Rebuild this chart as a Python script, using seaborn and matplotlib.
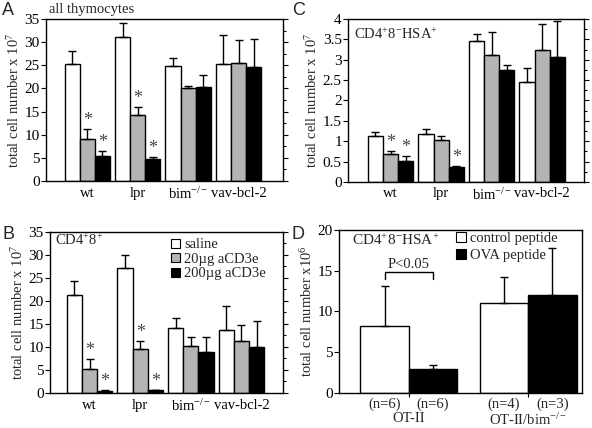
import numpy as np
import pandas as pd
import seaborn as sns
import matplotlib
matplotlib.use("Agg")
import matplotlib.pyplot as plt
from matplotlib.patches import Patch
from matplotlib.container import BarContainer
from matplotlib.ticker import MultipleLocator

# genotypes on the x axis of panels A-C, three treatments as hue
genotypes = ["wt", "lpr", "bim$^{-/-}$", "vav-bcl-2"]
treatments = ["saline", "20\u00b5g aCD3e", "200\u00b5g aCD3e"]

# panel A: all thymocytes (x 10^7), rows = genotype, cols = treatment
a_mean = [[25.3, 9.1, 5.5], [31.2, 14.2, 4.8], [24.9, 20.0, 20.3], [25.3, 25.6, 24.6]]
a_err = [[2.7, 2.1, 0.9], [2.9, 1.8, 0.5], [1.6, 0.5, 2.5], [6.3, 4.8, 6.1]]
a_star = [[False, True, True], [False, True, True], [False, False, False], [False, False, False]]

# panel B: CD4+8+
b_mean = [[21.4, 5.2, 0.45], [27.1, 9.6, 0.65], [14.2, 10.3, 8.95], [13.7, 11.35, 10.1]]
b_err = [[2.9, 2.1, 0.15], [3.0, 1.75, 0.1], [2.0, 1.8, 3.15], [5.3, 3.45, 5.6]]
b_star = [[False, True, True], [False, True, True], [False, False, False], [False, False, False]]

# panel C: CD4+8-HSA+
c_mean = [[1.12, 0.68, 0.51], [1.17, 1.03, 0.36], [3.46, 3.11, 2.76], [2.46, 3.24, 3.06]]
c_err = [[0.11, 0.08, 0.12], [0.12, 0.09, 0.03], [0.18, 0.57, 0.12], [0.33, 0.64, 0.89]]
c_star = [[False, True, True], [False, False, True], [False, False, False], [False, False, False]]

# panel D: OT-II experiment (x 10^6)
d_groups = ["OT-II", "OT-II/bim$^{-/-}$"]
d_peptides = ["control peptide", "OVA peptide"]
d_mean = [[8.2, 2.95], [11.07, 12.0]]
d_err = [[4.9, 0.5], [3.2, 5.75]]
d_n = [["(n=6)", "(n=6)"], ["(n=4)", "(n=3)"]]

tri_colors = ["white", "#b4b4b4", "black"]
duo_colors = ["white", "black"]

sns.set_style("ticks")
plt.rcParams["font.family"] = ["Liberation Serif", "DejaVu Serif"]
plt.rcParams["mathtext.fontset"] = "custom"
plt.rcParams["mathtext.rm"] = "Liberation Serif"
plt.rcParams["mathtext.it"] = "Liberation Serif:italic"
plt.rcParams["axes.linewidth"] = 1.0
plt.rcParams["xtick.color"] = "black"
plt.rcParams["ytick.color"] = "black"


def long_df(groups, levels, means, errs):
    rows = []
    for i, g in enumerate(groups):
        for j, h in enumerate(levels):
            rows.append({"group": g, "treat": h, "value": means[i][j], "err": errs[i][j]})
    return pd.DataFrame(rows)


def draw_bars(ax, groups, levels, means, errs, colors, width, stars=None):
    df = long_df(groups, levels, means, errs)
    sns.barplot(data=df, x="group", y="value", hue="treat", order=groups,
                hue_order=levels, palette=colors, width=width, gap=0,
                errorbar=None, legend=False, edgecolor="black", linewidth=1.0,
                saturation=1, ax=ax)
    # one container per hue level, bars in group order
    bars = [c for c in ax.containers if isinstance(c, BarContainer)]
    for j, cont in enumerate(bars):
        for i, bar in enumerate(cont):
            xc = bar.get_x() + bar.get_width() / 2
            top = means[i][j]
            ax.errorbar(xc, top, yerr=[[0], [errs[i][j]]], fmt="none",
                        ecolor="black", elinewidth=1.0, capsize=3, capthick=1.0,
                        zorder=1)
            if stars is not None and stars[i][j]:
                ax.annotate("*", (xc, top + errs[i][j]), xytext=(0, 0),
                            textcoords="offset points", ha="center", va="bottom",
                            fontsize=13, color="#444444")
    ax.set_xlabel("")
    ax.set_ylabel("")
    return bars


def style_axes(ax, ymax, major, minor, xlim):
    ax.set_ylim(0, ymax)
    ax.set_xlim(*xlim)
    ax.yaxis.set_major_locator(MultipleLocator(major))
    ax.yaxis.set_minor_locator(MultipleLocator(minor))
    for s in ax.spines.values():
        s.set_visible(True)
        s.set_color("black")
    ax.tick_params(axis="y", which="major", left=True, right=True, direction="out",
                   length=3.5, width=0.8, labelsize=11, pad=1)
    ax.tick_params(axis="y", which="minor", left=False, right=True, direction="out",
                   length=2, width=0.8)
    ax.tick_params(axis="x", length=0, labelsize=10.5, pad=4)


fig = plt.figure(figsize=(5.92, 4.28), dpi=100)
axA = fig.add_axes([0.0777, 0.577, 0.4003, 0.3786])
axC = fig.add_axes([0.588, 0.575, 0.398, 0.3806])
axB = fig.add_axes([0.0845, 0.0818, 0.3935, 0.3762])
axD = fig.add_axes([0.5726, 0.0818, 0.4104, 0.3808])

draw_bars(axA, genotypes, treatments, a_mean, a_err, tri_colors, 0.9, a_star)
style_axes(axA, 35, 5, 2.5, (-0.82, 3.88))
axA.set_ylabel("total cell number x 10$^{7}$", fontsize=10.5, labelpad=2)

draw_bars(axB, genotypes, treatments, b_mean, b_err, tri_colors, 0.9, b_star)
style_axes(axB, 35, 5, 2.5, (-0.78, 3.82))
axB.set_ylabel("total cell number x 10$^{7}$", fontsize=10.5, labelpad=2)
axB.text(0.02, 0.995, "CD4$^{+}$8$^{+}$", transform=axB.transAxes, ha="left",
         va="top", fontsize=10.5)
handles = [Patch(facecolor=c, edgecolor="black", linewidth=0.8) for c in tri_colors]
axB.legend(handles, treatments, loc="upper left", bbox_to_anchor=(0.52, 0.96),
           frameon=False, fontsize=10.5, handlelength=0.6, handleheight=0.6,
           handletextpad=0.3, labelspacing=0.1, borderpad=0, borderaxespad=0)

draw_bars(axC, genotypes, treatments, c_mean, c_err, tri_colors, 0.9, c_star)
style_axes(axC, 4, 0.5, 0.25, (-0.84, 3.82))
axC.set_yticks(np.arange(0, 4.01, 0.5))
axC.set_yticklabels(["0", "0.5", "1", "1.5", "2", "2.5", "3", "3.5", "4"])
axC.set_ylabel("total cell number x 10$^{7}$", fontsize=10.5, labelpad=2)
axC.text(0.025, 0.955, "CD4$^{+}$8$^{-}$HSA$^{+}$", transform=axC.transAxes,
         ha="left", va="top", fontsize=10.5)

d_bars = draw_bars(axD, d_groups, d_peptides, d_mean, d_err, duo_colors, 0.812)
axD.set_ylim(0, 20)
axD.set_xlim(-0.585, 1.45)
axD.yaxis.set_major_locator(MultipleLocator(5))
for s in axD.spines.values():
    s.set_visible(True)
    s.set_color("black")
axD.tick_params(axis="y", left=True, right=False, direction="out", length=3.5,
                width=0.8, labelsize=11, pad=1)
axD.set_xticks([0, 1])
axD.set_xticklabels(["", ""])
axD.tick_params(axis="x", direction="out", length=3, width=0.8)
axD.set_ylabel("total cell number x10$^{6}$", fontsize=10.5, labelpad=2)
axD.text(0.055, 0.985, "CD4$^{+}$8$^{-}$HSA$^{+}$", transform=axD.transAxes,
         ha="left", va="top", fontsize=11)
for j, cont in enumerate(d_bars):
    for i, bar in enumerate(cont):
        xc = bar.get_x() + bar.get_width() / 2
        axD.annotate(d_n[i][j], (xc, 0), xytext=(0, -3.5), textcoords="offset points",
                     ha="center", va="top", fontsize=10.5, annotation_clip=False)
for i, g in enumerate(d_groups):
    axD.annotate(g, (i, 0), xytext=(0, -13.5), textcoords="offset points",
                 ha="center", va="top", fontsize=10.5, annotation_clip=False)
# significance bracket over the OT-II pair
b0 = d_bars[0][0]
b1 = d_bars[1][0]
x0 = b0.get_x() + b0.get_width() / 2
x1 = b1.get_x() + b1.get_width() / 2
axD.plot([x0, x0, x1, x1], [14.0, 14.8, 14.8, 14.0], color="black", lw=1.0)
axD.text((x0 + x1) / 2, 15.0, "P<0.05", ha="center", va="bottom", fontsize=10.5)
handles = [Patch(facecolor=c, edgecolor="black", linewidth=0.8) for c in duo_colors]
axD.legend(handles, d_peptides, loc="upper left", bbox_to_anchor=(0.48, 0.99),
           frameon=False, fontsize=10.5, handlelength=0.7, handleheight=0.7,
           handletextpad=0.3, labelspacing=0.3, borderpad=0, borderaxespad=0)

fig.text(0.083, 0.993, "all thymocytes", ha="left", va="top", fontsize=10.5)

for lab, x, y in [("A", 0.004, 0.995), ("B", 0.004, 0.472), ("C", 0.493, 0.995),
                  ("D", 0.492, 0.472)]:
    fig.text(x, y, lab, ha="left", va="top", fontsize=13,
             family=["Liberation Sans", "DejaVu Sans"])

fig.savefig("out.png", dpi=100)
